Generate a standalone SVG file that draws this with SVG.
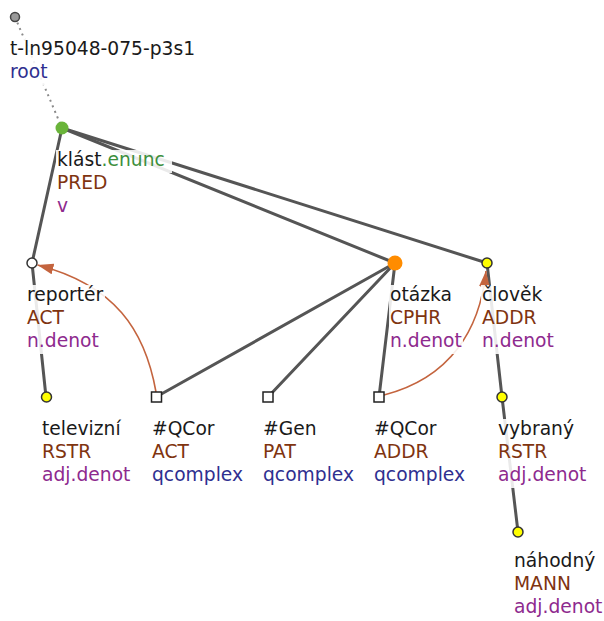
<svg xmlns="http://www.w3.org/2000/svg" width="604" height="621" viewBox="0 0 604 621">
<style>
text { font-family: "DejaVu Sans", "Liberation Sans", sans-serif; font-size: 18.7px; }
.lem { fill: #1a1a1a; }
.grn { fill: #3d8f3d; }
.fn { fill: #7f3410; }
.sp { fill: #8e2a8e; }
.nt { fill: #2f2f90; }
.bg rect { fill: #ffffff; fill-opacity: 0.88; }
.edge { stroke: #555555; stroke-width: 3; fill: none; stroke-linecap: round; }
.rootedge { stroke: #8a8a8a; stroke-width: 2; stroke-dasharray: 2 4; fill: none; }
.coref { stroke: #c4643e; stroke-width: 1.6; fill: none; }
.yel { fill: #ffff00; stroke: #333333; stroke-width: 1.5; }
.sq { fill: #ffffff; stroke: #222222; stroke-width: 1.5; }
</style>
<defs>
<marker id="ah" markerUnits="userSpaceOnUse" markerWidth="16" markerHeight="11" refX="16" refY="5.5" orient="auto">
<path d="M0,0 L16,5.5 L0,11 z" fill="#c4643e"/>
</marker>
</defs>
<g id="connectors">
<line class="rootedge" x1="15" y1="17" x2="62" y2="128"/>
<line class="edge" x1="62" y1="128" x2="32" y2="263"/>
<line class="edge" x1="62" y1="128" x2="395" y2="263"/>
<line class="edge" x1="62" y1="128" x2="487" y2="263"/>
<line class="edge" x1="32" y1="263" x2="46" y2="397"/>
<line class="edge" x1="395" y1="263" x2="156" y2="397"/>
<line class="edge" x1="395" y1="263" x2="268" y2="397"/>
<line class="edge" x1="395" y1="263" x2="379" y2="397"/>
<line class="edge" x1="487" y1="263" x2="502" y2="397"/>
<line class="edge" x1="502" y1="397" x2="518" y2="532"/>
<path class="coref" marker-end="url(#ah)" d="M156,392 C145,330 115,285 37.5,265"/>
<path class="coref" marker-end="url(#ah)" d="M384,395 C450,378 480,330 486,271"/>
</g>
<g id="n-root">
<g class="bg"><rect x="9" y="39" width="187" height="23"/><rect x="9" y="62" width="40" height="23"/></g>
<text x="10" y="55"><tspan class="lem">t-ln95048-075-p3s1</tspan><tspan class="nt" x="10" dy="23">root</tspan></text>
<circle cx="15" cy="17" r="4.5" fill="#999999" stroke="#444444" stroke-width="1.5"/>
</g>
<g id="n-klast">
<g class="bg"><rect x="56" y="150" width="116" height="23"/><rect x="56" y="173" width="53" height="23"/><rect x="56" y="196" width="13" height="23"/></g>
<text x="57" y="166"><tspan class="lem">klást</tspan><tspan class="grn">.enunc</tspan><tspan class="fn" x="57" dy="23">PRED</tspan><tspan class="sp" x="57" dy="23">v</tspan></text>
<circle cx="62" cy="128" r="6.5" fill="#6ab43a"/>
</g>
<g id="n-reporter">
<g class="bg"><rect x="26" y="285" width="79" height="23"/><rect x="26" y="308" width="40" height="23"/><rect x="26" y="331" width="74" height="23"/></g>
<text x="27" y="301"><tspan class="lem">reportér</tspan><tspan class="fn" x="27" dy="23">ACT</tspan><tspan class="sp" x="27" dy="23">n.denot</tspan></text>
<circle cx="32" cy="263" r="5" fill="#ffffff" stroke="#333333" stroke-width="1.5"/>
</g>
<g id="n-otazka">
<g class="bg"><rect x="389" y="285" width="65" height="23"/><rect x="389" y="308" width="54" height="23"/><rect x="389" y="331" width="74" height="23"/></g>
<text x="390" y="301"><tspan class="lem">otázka</tspan><tspan class="fn" x="390" dy="23">CPHR</tspan><tspan class="sp" x="390" dy="23">n.denot</tspan></text>
<circle cx="395" cy="263" r="7.5" fill="#ff8c00"/>
</g>
<g id="n-clovek">
<g class="bg"><rect x="481" y="285" width="63" height="23"/><rect x="481" y="308" width="57" height="23"/><rect x="481" y="331" width="74" height="23"/></g>
<text x="482" y="301"><tspan class="lem">člověk</tspan><tspan class="fn" x="482" dy="23">ADDR</tspan><tspan class="sp" x="482" dy="23">n.denot</tspan></text>
<circle class="yel" cx="487" cy="263" r="5"/>
</g>
<g id="n-televizni">
<g class="bg"><rect x="41" y="419" width="81" height="23"/><rect x="41" y="442" width="52" height="23"/><rect x="41" y="465" width="91" height="23"/></g>
<text x="42" y="435"><tspan class="lem">televizní</tspan><tspan class="fn" x="42" dy="23">RSTR</tspan><tspan class="sp" x="42" dy="23">adj.denot</tspan></text>
<circle class="yel" cx="46.5" cy="397" r="5"/>
</g>
<g id="n-qcor-act">
<g class="bg"><rect x="151" y="419" width="65" height="23"/><rect x="151" y="442" width="40" height="23"/><rect x="151" y="465" width="94" height="23"/></g>
<text x="152" y="435"><tspan class="lem">#QCor</tspan><tspan class="fn" x="152" dy="23">ACT</tspan><tspan class="nt" x="152" dy="23">qcomplex</tspan></text>
<rect class="sq" x="151.5" y="392" width="10" height="10"/>
</g>
<g id="n-gen">
<g class="bg"><rect x="262" y="419" width="56" height="23"/><rect x="262" y="442" width="38" height="23"/><rect x="262" y="465" width="94" height="23"/></g>
<text x="263" y="435"><tspan class="lem">#Gen</tspan><tspan class="fn" x="263" dy="23">PAT</tspan><tspan class="nt" x="263" dy="23">qcomplex</tspan></text>
<rect class="sq" x="263" y="392" width="10" height="10"/>
</g>
<g id="n-qcor-addr">
<g class="bg"><rect x="373" y="419" width="65" height="23"/><rect x="373" y="442" width="57" height="23"/><rect x="373" y="465" width="94" height="23"/></g>
<text x="374" y="435"><tspan class="lem">#QCor</tspan><tspan class="fn" x="374" dy="23">ADDR</tspan><tspan class="nt" x="374" dy="23">qcomplex</tspan></text>
<rect class="sq" x="374" y="392" width="10" height="10"/>
</g>
<g id="n-vybrany">
<g class="bg"><rect x="497" y="419" width="78" height="23"/><rect x="497" y="442" width="52" height="23"/><rect x="497" y="465" width="91" height="23"/></g>
<text x="498" y="435"><tspan class="lem">vybraný</tspan><tspan class="fn" x="498" dy="23">RSTR</tspan><tspan class="sp" x="498" dy="23">adj.denot</tspan></text>
<circle class="yel" cx="502" cy="397" r="5"/>
</g>
<g id="n-nahodny">
<g class="bg"><rect x="513" y="551" width="84" height="23"/><rect x="513" y="574" width="59" height="23"/><rect x="513" y="597" width="90" height="23"/></g>
<text x="514" y="567"><tspan class="lem">náhodný</tspan><tspan class="fn" x="514" dy="23">MANN</tspan><tspan class="sp" x="514" dy="23">adj.denot</tspan></text>
<circle class="yel" cx="518" cy="532" r="5"/>
</g>
</svg>
